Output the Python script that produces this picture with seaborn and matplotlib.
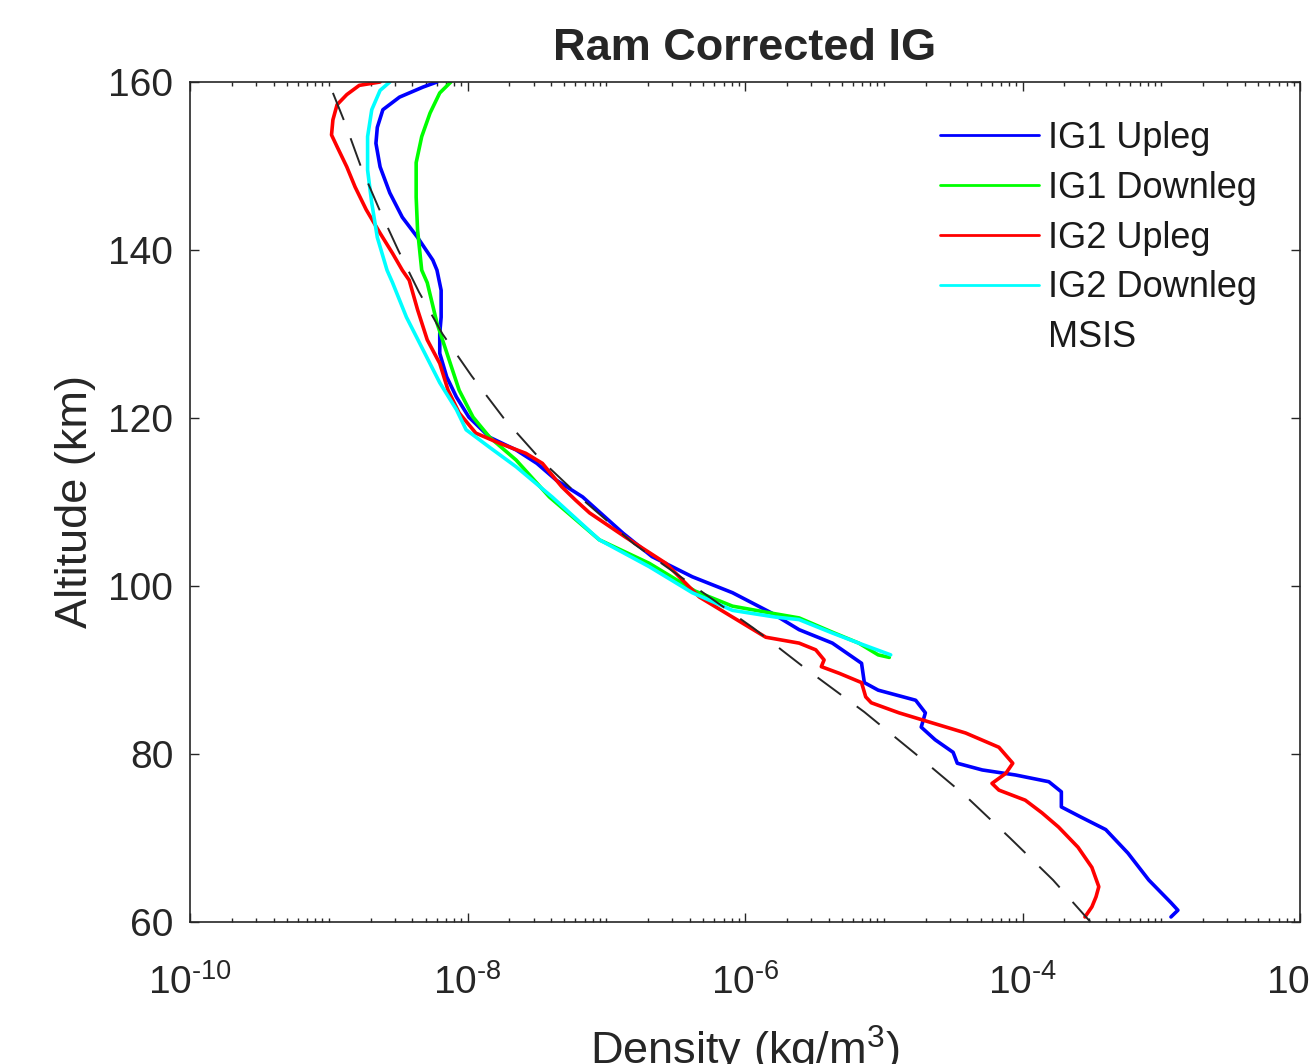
import numpy as np
import pandas as pd
import matplotlib
matplotlib.use("Agg")
import matplotlib.pyplot as plt
import seaborn as sns
from matplotlib.lines import Line2D
from matplotlib.ticker import LogLocator, FixedLocator, NullFormatter, FuncFormatter

# ---------------- data (altitude in km, log10 of density in kg/m^3) ----------------
ig1_up_alt = [160.0, 159.4, 158.2, 156.7, 154.6, 152.7, 149.9, 146.8, 143.9, 141.5, 138.8, 137.6,
              135.2, 132.0, 130.1, 127.7, 124.9, 122.5, 120.1, 117.7, 116.2, 114.6, 112.6, 110.6,
              106.3, 103.5, 101.1, 99.2, 96.8, 94.8, 93.2, 90.8, 88.5, 87.6, 86.4, 84.9, 83.2,
              81.7, 80.2, 78.9, 78.1, 77.5, 76.7, 75.5, 73.7, 72.5, 71.0, 68.2, 65.0, 62.3, 61.4, 60.6]
ig1_up_log10rho = [-8.22, -8.32, -8.49, -8.61, -8.65, -8.66, -8.63, -8.56, -8.47, -8.36, -8.25, -8.22,
                   -8.19, -8.19, -8.20, -8.20, -8.15, -8.08, -7.99, -7.84, -7.65, -7.50, -7.36, -7.17,
                   -6.88, -6.67, -6.38, -6.09, -5.81, -5.61, -5.37, -5.16, -5.14, -5.04, -4.77, -4.70, -4.73,
                   -4.63, -4.50, -4.47, -4.29, -4.05, -3.81, -3.72, -3.72, -3.58, -3.40, -3.24, -3.09, -2.93, -2.88, -2.93]

ig1_dn_alt = [160.0, 158.7, 156.3, 153.5, 150.4, 146.3, 142.4, 137.6, 136.1, 131.3, 127.3, 123.3, 120.1,
              117.7, 115.0, 110.6, 105.5, 102.7, 99.4, 97.6, 96.8, 96.2, 94.5, 93.2, 91.8, 91.5]
ig1_dn_log10rho = [-8.12, -8.20, -8.27, -8.33, -8.37, -8.37, -8.36, -8.33, -8.29, -8.22, -8.14, -8.06, -7.96,
                   -7.84, -7.65, -7.41, -7.05, -6.69, -6.36, -6.09, -5.82, -5.61, -5.37, -5.18, -5.04, -4.96]

ig2_up_alt = [160.0, 159.6, 158.5, 157.3, 155.5, 153.7, 152.3, 149.9, 147.5, 144.8, 142.0, 139.6, 137.6,
              136.4, 132.9, 129.3, 126.5, 123.3, 120.6, 118.2, 117.0, 115.8, 114.6, 111.8, 110.2, 108.7,
              105.8, 102.7, 98.7, 96.3, 93.9, 93.2, 92.4, 91.2, 90.4, 89.6, 88.5, 86.8, 86.1, 84.9, 83.7,
              82.5, 80.8, 78.9, 77.7, 76.5, 75.7, 74.5, 73.0, 71.3, 68.9, 66.5, 64.2, 63.0, 61.8, 60.6]
ig2_up_log10rho = [-8.63, -8.78, -8.87, -8.94, -8.97, -8.98, -8.94, -8.87, -8.81, -8.73, -8.63, -8.54, -8.47,
                   -8.42, -8.36, -8.29, -8.20, -8.14, -8.06, -7.94, -7.77, -7.58, -7.46, -7.32, -7.22, -7.12,
                   -6.86, -6.57, -6.33, -6.09, -5.85, -5.61, -5.49, -5.43, -5.45, -5.32, -5.16, -5.13, -5.09, -4.89, -4.65,
                   -4.41, -4.17, -4.07, -4.12, -4.22, -4.17, -3.98, -3.86, -3.74, -3.60, -3.50, -3.45, -3.47, -3.50, -3.55]

ig2_dn_alt = [160.0, 159.0, 156.7, 153.5, 149.5, 145.6, 141.5, 137.6, 136.1, 132.0, 128.1, 124.2, 121.0,
              118.6, 116.5, 114.2, 110.6, 105.5, 102.3, 99.2, 97.1, 96.3, 96.0, 94.4, 93.2, 91.8]
ig2_dn_log10rho = [-8.56, -8.63, -8.69, -8.72, -8.72, -8.69, -8.65, -8.58, -8.54, -8.44, -8.32, -8.20, -8.08,
                   -8.01, -7.84, -7.65, -7.39, -7.05, -6.69, -6.38, -6.09, -5.78, -5.61, -5.37, -5.18, -4.95]

msis_alt = [158.7, 155, 150, 145, 140, 135, 130, 125, 120, 115, 110, 105, 100, 95, 90, 85, 80, 75, 70, 65, 60]
msis_log10rho = [-8.97, -8.88, -8.77, -8.64, -8.50, -8.35, -8.18, -7.97, -7.74, -7.47, -7.15, -6.80,
                 -6.37, -5.94, -5.55, -5.14, -4.77, -4.41, -4.09, -3.78, -3.51]

series_names = ["IG1 Upleg", "IG1 Downleg", "IG2 Upleg", "IG2 Downleg"]
series_colors = ["#0000ff", "#00ff00", "#ff0000", "#00ffff"]
y_ticks = [60, 80, 100, 120, 140, 160]
x_major_exponents = [-10, -8, -6, -4, -2]

# ---------------- build dataframe ----------------
frames = []
for name, alt, lg in zip(series_names,
                         [ig1_up_alt, ig1_dn_alt, ig2_up_alt, ig2_dn_alt],
                         [ig1_up_log10rho, ig1_dn_log10rho, ig2_up_log10rho, ig2_dn_log10rho]):
    frames.append(pd.DataFrame({"Altitude": alt, "Density": 10.0 ** np.array(lg), "Series": name}))
df = pd.concat(frames, ignore_index=True)
msis_df = pd.DataFrame({"Altitude": msis_alt, "Density": 10.0 ** np.array(msis_log10rho)})

# ---------------- style ----------------
sns.set_style("ticks")
plt.rcParams['font.family'] = ['Liberation Sans', 'DejaVu Sans']
plt.rcParams['mathtext.fontset'] = 'custom'
plt.rcParams['mathtext.rm'] = 'Liberation Sans'
plt.rcParams['mathtext.it'] = 'Liberation Sans:italic'
plt.rcParams['mathtext.bf'] = 'Liberation Sans:bold'

fig = plt.figure(figsize=(13.11, 10.64), dpi=100)
ax = fig.add_axes([190 / 1311, 1 - 922 / 1064, (1300 - 190) / 1311, (922 - 82) / 1064])

palette = dict(zip(series_names, series_colors))
sns.lineplot(data=df, x="Density", y="Altitude", hue="Series", hue_order=series_names,
             palette=palette, sort=False, estimator=None, orient="y", linewidth=2.6,
             ax=ax, legend=False)
sns.lineplot(data=msis_df, x="Density", y="Altitude", sort=False, estimator=None, orient="y",
             color="0.15", linewidth=1.4, ax=ax, legend=False)
ax.lines[-1].set_linestyle((0, (15, 10)))

ax.set_xscale("log")
ax.set_xlim(1e-10, 1e-2)
ax.set_ylim(60, 160)
ax.xaxis.set_major_locator(FixedLocator([10.0 ** e for e in x_major_exponents]))


def _fmt(v, pos):
    e = int(round(np.log10(v)))
    s = ("\u2010" if e < 0 else "") + str(abs(e))
    return r"$\mathregular{10^{%s}}$" % s


ax.xaxis.set_major_formatter(FuncFormatter(_fmt))
ax.xaxis.set_minor_locator(LogLocator(base=10, subs=np.arange(1, 10), numticks=100))
ax.xaxis.set_minor_formatter(NullFormatter())
ax.set_yticks(y_ticks)

dark = "0.15"
for s in ax.spines.values():
    s.set_visible(True)
    s.set_linewidth(1.2)
    s.set_color(dark)
ax.tick_params(which="both", direction="in", top=True, right=True, color=dark, width=1.0)
ax.tick_params(which="major", length=6.5, labelsize=28, labelcolor=dark)
ax.tick_params(axis="x", which="major", pad=30)
ax.tick_params(axis="y", which="major", pad=12)
ax.tick_params(which="minor", length=3.2)

ax.set_title("Ram Corrected IG", fontsize=32.5, fontweight="bold", pad=16)
ax.set_ylabel("Altitude (km)", fontsize=32.5, color=dark, labelpad=9)
ax.set_xlabel("Density (kg/m$^3$)", fontsize=32.5, color=dark, labelpad=16)

handles = [Line2D([], [], color=c, lw=2.0) for c in series_colors]
handles.append(Line2D([], [], linestyle="none"))
labels = series_names + ["MSIS"]
leg = ax.legend(handles, labels, loc="upper left", bbox_to_anchor=(940 / 1311, 1 - 121 / 1064),
                bbox_transform=fig.transFigure, frameon=False, fontsize=26, handlelength=2.75,
                handletextpad=0.25, labelspacing=0.41, borderpad=0, borderaxespad=0)
for t in leg.get_texts():
    t.set_color("0.1")

fig.savefig("out.png", dpi=100)
